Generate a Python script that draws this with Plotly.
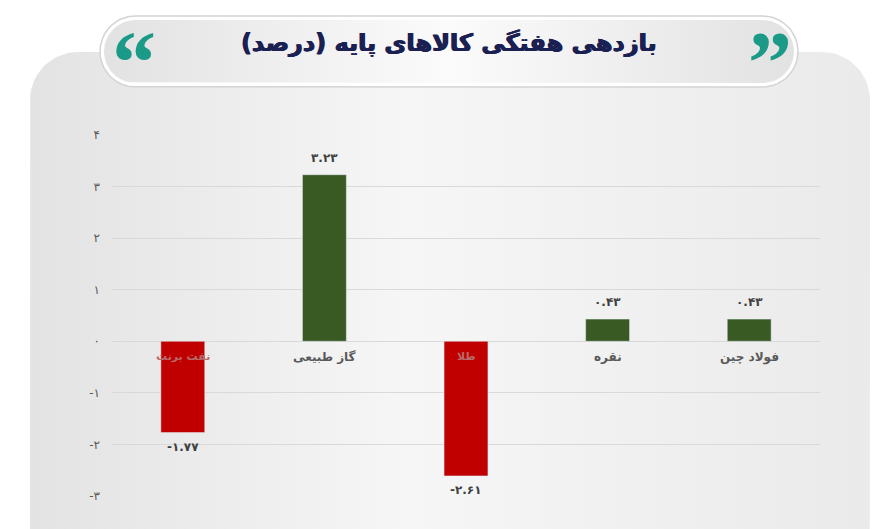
import numpy as np
import plotly.graph_objects as go

categories = ["نفت برنت", "گاز طبیعی", "طلا", "نقره", "فولاد چین"]
values = [-1.77, 3.23, -2.61, 0.43, 0.43]
tick_vals = [-3, -2, -1, 0, 1, 2, 3, 4]
title_text = "بازدهی هفتگی کالاهای پایه (درصد)"

FA = str.maketrans("0123456789", "۰۱۲۳۴۵۶۷۸۹")
def fa(s):
    return str(s).translate(FA)

W, H = 893, 529
OX, OY = 8, 8  # page offset of the figure inside the browser window
def px(x):
    return (x - OX) / W
def py(y):
    return 1 - (y - OY) / H

RED = "#c00000"
GREEN = "#3a5a24"
colors = [RED if v < 0 else GREEN for v in values]


def rounded_poly(x0, y0, x1, y1, r, n=16):
    xs, ys = [], []
    corners = [(x1 - r, y0 + r, -90, 0), (x1 - r, y1 - r, 0, 90),
               (x0 + r, y1 - r, 90, 180), (x0 + r, y0 + r, 180, 270)]
    for cx, cy, a0, a1 in corners:
        for a in np.linspace(np.radians(a0), np.radians(a1), n):
            xs.append(cx + r * np.cos(a))
            ys.append(cy + r * np.sin(a))
    xs.append(xs[0]); ys.append(ys[0])
    return xs, ys


fig = go.Figure()

# background panel and title pill (screen-pixel coordinates on a full-figure overlay axis)
bx, by = rounded_poly(30, 52, 870, 640, 48)
fig.add_trace(go.Scatter(x=bx, y=by, fill="toself", mode="lines", line=dict(width=0),
                         fillgradient=dict(type="horizontal",
                                           colorscale=[[0, "#e3e3e3"], [0.45, "#f6f6f6"], [1, "#eaeaea"]]),
                         hoverinfo="skip", xaxis="x", yaxis="y"))
ox, oy = rounded_poly(100, 16, 798, 87, 35.5)
fig.add_trace(go.Scatter(x=ox, y=oy, fill="toself", mode="lines", line=dict(width=1.5, color="#d4d4d4"),
                         fillcolor="#ffffff", hoverinfo="skip", xaxis="x", yaxis="y"))
ix, iy = rounded_poly(104, 20, 794, 83, 31.5)
fig.add_trace(go.Scatter(x=ix, y=iy, fill="toself", mode="lines", line=dict(width=0),
                         fillgradient=dict(type="horizontal",
                                           colorscale=[[0, "#e2e2e2"], [0.5, "#fbfbfb"], [1, "#e2e2e2"]]),
                         hoverinfo="skip", xaxis="x", yaxis="y"))

# bars
fig.add_trace(go.Bar(x=categories, y=values, marker_color=colors, width=0.31,
                     hoverinfo="skip", xaxis="x2", yaxis="y2"))

annotations = []
for c, v in zip(categories, values):
    # category labels just under the zero line
    annotations.append(dict(
        x=c, y=0, xref="x2", yref="y2", yanchor="top", yshift=-7, showarrow=False,
        text="<b>" + c + "</b>",
        font=dict(family="DejaVu Sans", size=11 if v < 0 else 12,
                  color="#b86a6a" if v < 0 else "#595959")))
    # value labels
    annotations.append(dict(
        x=c, y=v, xref="x2", yref="y2", showarrow=False,
        yanchor="bottom" if v >= 0 else "top", yshift=8 if v >= 0 else -5,
        text="<b>" + fa(f"{v:.2f}") + "</b>",
        font=dict(family="DejaVu Sans", size=12, color="#404040")))

annotations += [
    dict(x=449, y=43, xref="x", yref="y", showarrow=False,
         text="<b>\u202b" + title_text + "\u202c</b>",
         font=dict(family="DejaVu Sans", size=24, color="#1b2052",
                   shadow="0.6px 0 0 #1b2052, -0.6px 0 0 #1b2052")),
    dict(x=134, y=62, xref="x", yref="y", showarrow=False, text="<b>\u201c</b>",
         font=dict(family="Liberation Serif", size=88, color="#1c9a88")),
    dict(x=770, y=62, xref="x", yref="y", showarrow=False, text="<b>\u201d</b>",
         font=dict(family="Liberation Serif", size=88, color="#1c9a88")),
]

fig.update_layout(
    width=W, height=H, margin=dict(l=0, r=0, t=0, b=0, autoexpand=False),
    paper_bgcolor="#ffffff", plot_bgcolor="rgba(0,0,0,0)",
    showlegend=False, annotations=annotations,
    xaxis=dict(domain=[0, 1], range=[OX, W + OX], visible=False, fixedrange=True, automargin=False),
    yaxis=dict(domain=[0, 1], range=[H + OY, OY], visible=False, fixedrange=True, automargin=False),
    xaxis2=dict(domain=[px(112), px(820)], anchor="y2", showticklabels=False, showgrid=False,
                zeroline=False, showline=False, fixedrange=True, automargin=False),
    yaxis2=dict(domain=[py(496), py(135)], anchor="x2", range=[-3, 4], tickvals=tick_vals,
                ticktext=[fa(v) for v in tick_vals], automargin=False,
                tickfont=dict(family="DejaVu Sans", size=12, color="#595959"),
                gridcolor="#d9d9d9", gridwidth=1, zeroline=True, zerolinecolor="#d9d9d9",
                zerolinewidth=1, ticklabelstandoff=11, showline=False, fixedrange=True),
)

fig.write_html("out.html")
